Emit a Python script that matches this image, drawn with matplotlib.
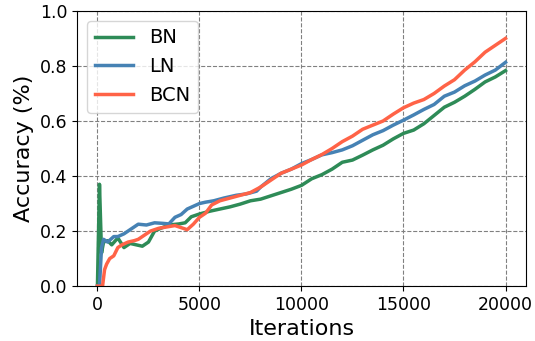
import numpy as np
import matplotlib
matplotlib.use("Agg")
import matplotlib.pyplot as plt

# values
bn_iter = [0, 100, 200, 300, 500, 700, 1000, 1300, 1600, 1900, 2200, 2500, 2800,
           3100, 3500, 4000, 4300, 4600, 5000, 5500, 6000, 6500, 7000, 7500, 8000,
           8500, 9000, 9500, 10000, 10500, 11000, 11500, 12000, 12500, 13000,
           13500, 14000, 14500, 15000, 15500, 16000, 16500, 17000, 17500, 18000,
           18500, 19000, 19500, 20000]
bn_acc = [0.0, 0.37, 0.12, 0.16, 0.165, 0.15, 0.175, 0.14, 0.155, 0.15, 0.145, 0.16,
          0.20, 0.21, 0.222, 0.226, 0.23, 0.252, 0.262, 0.272, 0.28, 0.288, 0.298,
          0.31, 0.316, 0.328, 0.34, 0.352, 0.366, 0.39, 0.405, 0.425, 0.45, 0.458,
          0.476, 0.495, 0.512, 0.535, 0.555, 0.567, 0.59, 0.62, 0.65, 0.668, 0.69,
          0.715, 0.742, 0.76, 0.783]

ln_iter = [0, 100, 200, 300, 500, 800, 1000, 1300, 1600, 2000, 2400, 2800, 3200,
           3500, 3800, 4100, 4400, 4700, 5000, 5300, 5700, 6200, 6800, 7300, 7800,
           8000, 8500, 9000, 9500, 10000, 10500, 11000, 11500, 12000, 12500, 13000,
           13500, 14000, 14500, 15000, 15500, 16000, 16500, 17000, 17500, 18000,
           18500, 19000, 19500, 20000]
ln_acc = [0.0, 0.0, 0.14, 0.17, 0.16, 0.18, 0.18, 0.19, 0.205, 0.225, 0.222, 0.23,
          0.228, 0.226, 0.25, 0.26, 0.28, 0.29, 0.30, 0.305, 0.31, 0.32, 0.33, 0.335,
          0.345, 0.36, 0.39, 0.41, 0.425, 0.445, 0.46, 0.477, 0.485, 0.495, 0.51,
          0.53, 0.55, 0.565, 0.585, 0.603, 0.622, 0.642, 0.66, 0.69, 0.705, 0.728,
          0.745, 0.767, 0.785, 0.813]

bcn_iter = [0, 250, 350, 450, 600, 800, 1000, 1200, 1500, 1800, 2000, 2300, 2600,
            3000, 3400, 3800, 4200, 4400, 4700, 5000, 5300, 5600, 6000, 6500, 7000,
            7500, 8000, 8500, 9000, 9500, 10000, 10500, 11000, 11500, 12000, 12500,
            13000, 13500, 14000, 14500, 15000, 15500, 16000, 16500, 17000, 17500,
            18000, 18500, 19000, 19500, 20000]
bcn_acc = [0.0, 0.0, 0.06, 0.08, 0.10, 0.11, 0.14, 0.15, 0.16, 0.165, 0.17, 0.185,
           0.20, 0.21, 0.215, 0.22, 0.21, 0.205, 0.225, 0.25, 0.265, 0.295, 0.31,
           0.32, 0.33, 0.34, 0.36, 0.385, 0.41, 0.425, 0.44, 0.46, 0.478, 0.50,
           0.525, 0.545, 0.57, 0.585, 0.60, 0.625, 0.648, 0.665, 0.678, 0.70, 0.727,
           0.75, 0.785, 0.815, 0.85, 0.875, 0.90]

fig = plt.figure(figsize=(5.35, 3.41), dpi=100)
ax = fig.add_axes([0.144, 0.161, 0.839, 0.807])

ax.plot(bn_iter, bn_acc, color='seagreen', lw=2.5, label='BN')
ax.plot(ln_iter, ln_acc, color='steelblue', lw=2.5, label='LN')
ax.plot(bcn_iter, bcn_acc, color='tomato', lw=2.5, label='BCN')

ax.set_ylim(0, 1.0)
ax.set_xticks([0, 5000, 10000, 15000, 20000])
ax.set_yticks(np.arange(0, 1.01, 0.2))
ax.grid(True, linestyle='--', color='gray', lw=0.8)
ax.tick_params(labelsize=12.5)
ax.set_xlabel('Iterations', fontsize=16)
ax.set_ylabel('Accuracy (%)', fontsize=16)
ax.legend(loc='upper left', fontsize=14)

fig.savefig('out.png', dpi=100)
